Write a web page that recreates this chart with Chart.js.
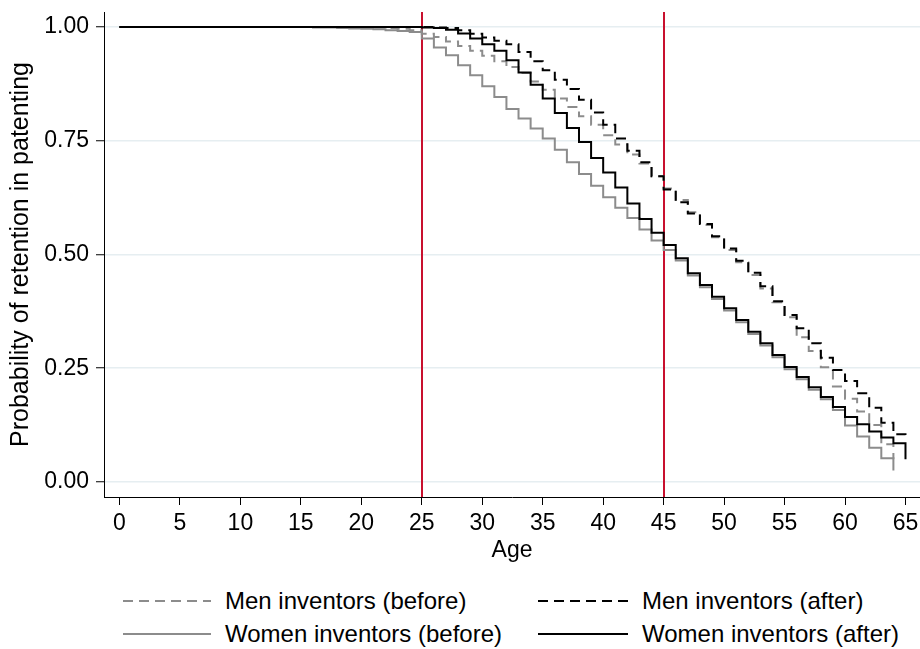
<!DOCTYPE html>
<html lang="en">
<head>
<meta charset="UTF-8">
<title>Probability of retention in patenting</title>
<script src="https://cdn.jsdelivr.net/npm/chart.js"></script>
<style>
  html, body { margin: 0; padding: 0; background: #fff; }
  #wrap { position: relative; width: 920px; height: 649px; overflow: hidden; }
  #chart { position: absolute; left: 0; top: 0; }
  .leg { position: absolute; height: 30px; display: flex; align-items: center;
         font-family: "Liberation Sans", Arial, sans-serif; font-size: 24px; color: #000; white-space: nowrap; }
  .leg svg { margin-right: 14px; }
</style>
</head>
<body>
<div id="wrap">
  <canvas id="chart" width="920" height="570"></canvas>
  <div id="legend"></div>
</div>
<script>
// ages (x values)
const ages = [0, 1, 2, 3, 4, 5, 6, 7, 8, 9, 10, 11, 12, 13, 14, 15, 16, 17, 18, 19, 20,
  21, 22, 23, 24, 25, 26, 27, 28, 29, 30, 31, 32, 33, 34, 35, 36, 37, 38, 39, 40,
  41, 42, 43, 44, 45, 46, 47, 48, 49, 50, 51, 52, 53, 54, 55, 56, 57, 58, 59, 60,
  61, 62, 63, 64, 65];

// retention probabilities, one value per age
const menBefore = [1, 1, 1, 1, 1, 1, 1, 1, 1, 1, 1, 1, 1, 1, 1, 1, 1, 1, 1, 1, 1,
  0.999, 0.998, 0.996, 0.993, 0.985, 0.978, 0.968, 0.958, 0.948, 0.937,
  0.925, 0.912, 0.899, 0.880, 0.862, 0.843, 0.824, 0.804, 0.785, 0.762,
  0.742, 0.720, 0.700, 0.672, 0.645, 0.620, 0.593, 0.565, 0.538, 0.510,
  0.483, 0.455, 0.425, 0.395, 0.362, 0.318, 0.288, 0.252, 0.210, 0.183,
  0.155, 0.125, 0.083, 0.050, null];

const menAfter = [1, 1, 1, 1, 1, 1, 1, 1, 1, 1, 1, 1, 1, 1, 1, 1, 1, 1, 1, 1, 1,
  1, 1, 1, 1, 1, 0.999, 0.998, 0.993, 0.985, 0.977,
  0.970, 0.962, 0.945, 0.925, 0.905, 0.884, 0.864, 0.840, 0.812, 0.785,
  0.755, 0.728, 0.703, 0.672, 0.643, 0.615, 0.590, 0.567, 0.540, 0.513,
  0.486, 0.460, 0.430, 0.397, 0.367, 0.338, 0.305, 0.273, 0.246, 0.222,
  0.195, 0.163, 0.130, 0.105, 0.100];

const womenBefore = [1, 1, 1, 1, 1, 1, 1, 1, 1, 1, 1, 1, 1, 1, 1, 1, 0.999, 0.999, 0.998, 0.997, 0.996,
  0.995, 0.993, 0.991, 0.989, 0.975, 0.955, 0.938, 0.916, 0.894, 0.870,
  0.846, 0.820, 0.799, 0.777, 0.755, 0.730, 0.703, 0.677, 0.651, 0.626,
  0.603, 0.580, 0.555, 0.531, 0.510, 0.487, 0.454, 0.428, 0.402, 0.377,
  0.351, 0.325, 0.300, 0.274, 0.248, 0.226, 0.203, 0.182, 0.158, 0.124,
  0.100, 0.075, 0.052, 0.025, null];

const womenAfter = [1, 1, 1, 1, 1, 1, 1, 1, 1, 1, 1, 1, 1, 1, 1, 1, 1, 1, 1, 1, 1,
  1, 1, 1, 1, 0.999, 0.998, 0.994, 0.986, 0.975, 0.962,
  0.948, 0.927, 0.900, 0.873, 0.843, 0.811, 0.778, 0.747, 0.712, 0.680,
  0.647, 0.612, 0.578, 0.548, 0.521, 0.492, 0.459, 0.433, 0.407, 0.382,
  0.356, 0.330, 0.305, 0.279, 0.253, 0.231, 0.208, 0.187, 0.165, 0.143,
  0.127, 0.111, 0.098, 0.085, 0.050];

const xTicks = [0, 5, 10, 15, 20, 25, 30, 35, 40, 45, 50, 55, 60, 65];
const yTicks = [0, 0.25, 0.5, 0.75, 1];
const markerAges = [25, 45];

const GRAY = '#8c8c8c';
const BLACK = '#000000';
const DASH = [10, 6];
const FONT = '"Liberation Sans", Arial, sans-serif';

const series = [
  { label: 'Men inventors (before)', values: menBefore, color: GRAY, dash: DASH, order: 2 },
  { label: 'Men inventors (after)', values: menAfter, color: BLACK, dash: DASH, order: 0 },
  { label: 'Women inventors (before)', values: womenBefore, color: GRAY, dash: [], order: 3 },
  { label: 'Women inventors (after)', values: womenAfter, color: BLACK, dash: [], order: 1 }
];

function toPoints(values) {
  const pts = [];
  ages.forEach((a, i) => { if (values[i] !== null) pts.push({ x: a, y: values[i] }); });
  return pts;
}

// vertical red lines at the two reference ages
const markerLines = {
  id: 'markerLines',
  beforeDatasetsDraw(chart) {
    const { ctx, chartArea, scales } = chart;
    ctx.save();
    ctx.strokeStyle = '#c8102e';
    ctx.lineWidth = 2;
    markerAges.forEach(a => {
      const x = Math.round(scales.x.getPixelForValue(a));
      ctx.beginPath();
      ctx.moveTo(x, chartArea.top);
      ctx.lineTo(x, chartArea.bottom);
      ctx.stroke();
    });
    ctx.restore();
  }
};

new Chart(document.getElementById('chart'), {
  type: 'line',
  data: {
    datasets: series.map(s => ({
      label: s.label,
      data: toPoints(s.values),
      borderColor: s.color,
      borderDash: s.dash,
      borderWidth: 2,
      pointRadius: 0,
      stepped: 'before',
      fill: false,
      order: s.order
    }))
  },
  options: {
    responsive: false,
    animation: false,
    devicePixelRatio: 1,
    layout: { padding: { top: 12, right: 0, left: 0, bottom: 0 } },
    plugins: { legend: { display: false }, tooltip: { enabled: false } },
    scales: {
      x: {
        type: 'linear',
        min: -1.28,
        max: 66.2,
        afterBuildTicks: s => { s.ticks = xTicks.map(v => ({ value: v })); },
        afterFit: s => { s.height = 73; s.paddingRight = 0; s.paddingLeft = 0; },
        ticks: { color: '#000', font: { family: FONT, size: 23 }, padding: 5, maxRotation: 0, autoSkip: false },
        grid: { drawOnChartArea: false, tickLength: 8, tickColor: '#000', tickWidth: 1 },
        border: { color: '#000', width: 1 },
        title: { display: true, text: 'Age', color: '#000', font: { family: FONT, size: 23 }, padding: { top: 0, bottom: 6 } }
      },
      y: {
        min: -0.033,
        max: 1.033,
        afterBuildTicks: s => { s.ticks = yTicks.map(v => ({ value: v })); },
        afterFit: s => { s.width = 104; s.paddingTop = 0; s.paddingBottom = 0; },
        ticks: { color: '#000', font: { family: FONT, size: 23 }, padding: 7, callback: v => v.toFixed(2) },
        grid: { color: '#e6eef1', lineWidth: 1.5, tickLength: 8, tickColor: '#000', tickWidth: 1 },
        border: { color: '#000', width: 1 },
        title: { display: true, text: 'Probability of retention in patenting', color: '#000', font: { family: FONT, size: 25 }, padding: { top: 6, bottom: 0 } }
      }
    }
  },
  plugins: [markerLines]
});

// legend below the plot, two columns
const legendPos = [
  { left: 123, top: 586 }, { left: 538, top: 586 },
  { left: 123, top: 619 }, { left: 538, top: 619 }
];
const legend = document.getElementById('legend');
series.forEach((s, i) => {
  const div = document.createElement('div');
  div.className = 'leg';
  div.style.left = legendPos[i].left + 'px';
  div.style.top = legendPos[i].top + 'px';
  const w = i % 2 === 0 ? 88 : 90;
  div.innerHTML = '<svg width="' + w + '" height="4"><line x1="0" y1="2" x2="' + w + '" y2="2" stroke="' + s.color +
    '" stroke-width="2" stroke-dasharray="' + (s.dash.length ? s.dash.join(' ') : 'none') + '"/></svg>' +
    '<span>' + s.label + '</span>';
  legend.appendChild(div);
});
</script>
</body>
</html>
